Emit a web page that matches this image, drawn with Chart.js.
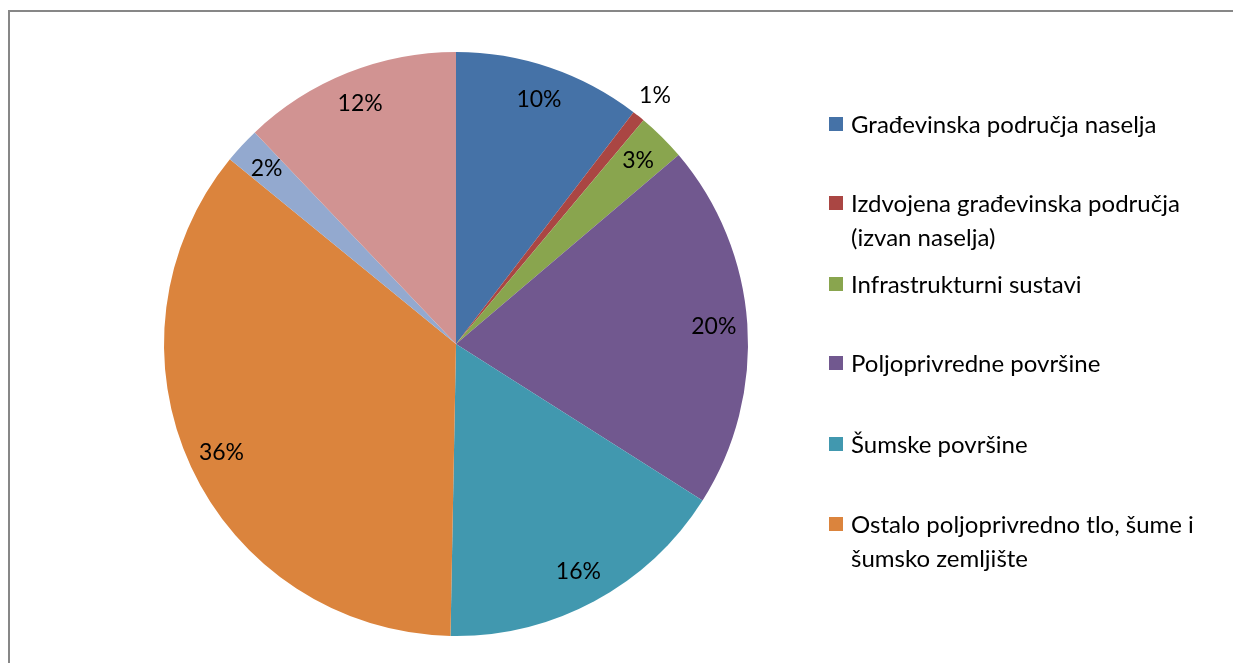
<!DOCTYPE html>
<html>
<head>
<meta charset="utf-8">
<script src="https://cdn.jsdelivr.net/npm/chart.js@4.4.1/dist/chart.umd.min.js"></script>
<style>
  html, body { margin: 0; padding: 0; background: #fff; overflow: hidden; }
  #wrap { position: relative; width: 1233px; height: 663px; overflow: hidden; }
  #frame { position: absolute; left: 8px; top: 10px; width: 1400px; height: 800px; border: 2px solid #878787; box-sizing: border-box; }
  #pie { position: absolute; left: 0; top: 0; }
  #legend { position: absolute; left: 829px; top: 0; font-family: Lato, "Open Sans", sans-serif; font-size: 24px; color: #000; }
  .item { position: absolute; left: 0; width: 400px; }
  .item .box { position: absolute; left: 0; width: 14px; height: 14px; }
  .item .txt { position: absolute; left: 22px; line-height: 34px; white-space: nowrap; }
</style>
</head>
<body>
<div id="wrap">
  <div id="frame"></div>
  <canvas id="pie" width="1233" height="663"></canvas>
  <div id="legend"></div>
</div>
<script>
// Podaci
const kategorije = [
    'Građevinska područja naselja',
    'Izdvojena građevinska područja\n(izvan naselja)',
    'Infrastrukturni sustavi',
    'Poljoprivredne površine',
    'Šumske površine',
    'Ostalo poljoprivredno tlo, šume i\nšumsko zemljište',
    '',
    ''
];
const udjeli = [10.4, 0.7, 2.7, 20.2, 16.3, 35.6, 2.0, 12.1];
const boje = ['#4572A7', '#AA4643', '#89A54E', '#71588F', '#4198AF', '#DB843D', '#93A9CF', '#D19392'];
const brojStavkiLegende = 6; // legenda u originalu prikazuje samo prvih 6

// Postotne oznake na kriškama
const oznakePlugin = {
    id: 'oznake',
    afterDatasetsDraw(chart) {
        const ctx = chart.ctx;
        const meta = chart.getDatasetMeta(0);
        const ukupno = udjeli.reduce((a, b) => a + b, 0);
        ctx.save();
        ctx.font = '23px Lato, "Open Sans", sans-serif';
        ctx.fillStyle = '#000';
        ctx.textAlign = 'center';
        ctx.textBaseline = 'middle';
        meta.data.forEach((arc, i) => {
            const kut = (arc.startAngle + arc.endAngle) / 2;
            const faktor = udjeli[i] < 1 ? 1.09 : 0.885;
            const r = arc.outerRadius * faktor;
            const x = arc.x + Math.cos(kut) * r;
            const y = arc.y + Math.sin(kut) * r;
            ctx.fillText(Math.round(udjeli[i] / ukupno * 100) + '%', x, y);
        });
        ctx.restore();
    }
};

new Chart(document.getElementById('pie'), {
    type: 'pie',
    data: {
        labels: kategorije,
        datasets: [{
            data: udjeli,
            backgroundColor: boje,
            borderWidth: 0
        }]
    },
    options: {
        responsive: false,
        animation: false,
        layout: { padding: { left: 164, right: 485, top: 52, bottom: 27 } },
        plugins: {
            legend: { display: false },
            tooltip: { enabled: false }
        }
    },
    plugins: [oznakePlugin]
});

// Legenda (HTML)
const legenda = document.getElementById('legend');
const pozicije = [124, 203, 284, 363, 444, 524]; // y centra prvog retka
kategorije.slice(0, brojStavkiLegende).forEach((naziv, i) => {
    const item = document.createElement('div');
    item.className = 'item';
    item.style.top = (pozicije[i] - 17) + 'px';
    const box = document.createElement('div');
    box.className = 'box';
    box.style.background = boje[i];
    box.style.top = '10px';
    const txt = document.createElement('div');
    txt.className = 'txt';
    txt.innerHTML = naziv.split('\n').join('<br>');
    item.appendChild(box);
    item.appendChild(txt);
    legenda.appendChild(item);
});
</script>
</body>
</html>
